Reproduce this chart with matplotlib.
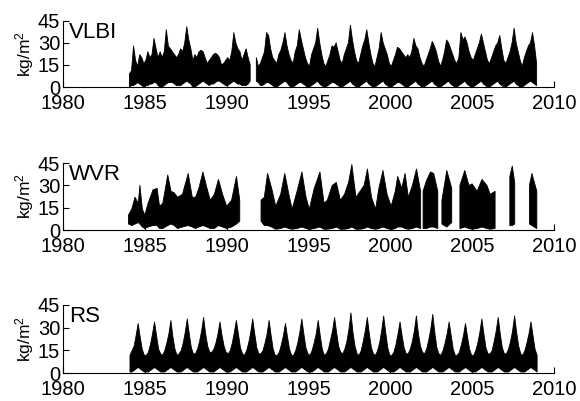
import numpy as np
import matplotlib
matplotlib.use("Agg")
import matplotlib.pyplot as plt

plt.rcParams['font.family'] = ['Liberation Sans', 'DejaVu Sans']
plt.rcParams['mathtext.default'] = 'regular'

nan = np.nan
years = list(range(1984, 2009))
# 8 samples per year, sample position inside the year
bins = [0.0625, 0.1875, 0.3125, 0.4375, 0.5625, 0.6875, 0.8125, 0.9375]

# VLBI: upper / lower edge of the point cloud
vlbi_hi = [
    [9, 11, 28, 18, 14, 22, 20, 16],
    [18, 24, 20, 22, 33, 26, 20, 24],
    [20, 24, 39, 28, 26, 24, 22, 20],
    [22, 26, 24, 30, 41, 32, 26, 18],
    [22, 20, 24, 25, 24, 20, 16, 18],
    [20, 22, 23, 22, 20, 15, 16, 18],
    [20, 18, 24, 37, 30, 26, 24, 18],
    [22, 26, 20, 15, nan, nan, 20, 14],
    [16, 20, 24, 37, 35, 26, 20, 18],
    [16, 22, 25, 30, 37, 28, 22, 18],
    [16, 24, 28, 39, 32, 26, 20, 16],
    [14, 22, 26, 30, 40, 30, 22, 16],
    [14, 18, 22, 28, 27, 30, 24, 18],
    [16, 22, 26, 30, 42, 32, 24, 18],
    [16, 22, 28, 32, 39, 30, 22, 16],
    [14, 20, 26, 37, 30, 26, 22, 16],
    [14, 18, 22, 27, 26, 24, 22, 20],
    [22, 20, 24, 33, 28, 26, 20, 16],
    [14, 18, 22, 26, 31, 28, 24, 18],
    [14, 18, 24, 32, 30, 26, 22, 18],
    [16, 20, 37, 32, 34, 30, 24, 20],
    [18, 22, 26, 30, 36, 30, 24, 18],
    [16, 20, 24, 28, 30, 35, 26, 18],
    [16, 20, 24, 30, 40, 30, 24, 18],
    [14, 20, 24, 28, 30, 37, 28, 16],
]
vlbi_lo = [
    [0, 1, 1, 2, 3, 2, 1, 0],
    [1, 1, 2, 2, 3, 3, 1, 0],
    [0, 1, 2, 3, 3, 3, 2, 1],
    [1, 1, 2, 3, 4, 3, 2, 0],
    [0, 1, 2, 3, 4, 3, 2, 1],
    [2, 2, 3, 4, 4, 3, 2, 1],
    [1, 2, 3, 4, 3, 2, 2, 1],
    [1, 1, 2, 4, nan, nan, 4, 3],
    [1, 1, 2, 3, 3, 2, 1, 0],
    [0, 1, 2, 3, 4, 3, 1, 0],
    [0, 1, 2, 3, 3, 2, 1, 0],
    [0, 1, 2, 3, 4, 2, 1, 0],
    [0, 1, 2, 3, 3, 2, 1, 0],
    [0, 1, 2, 3, 4, 2, 1, 0],
    [0, 1, 2, 3, 4, 2, 1, 0],
    [0, 1, 2, 3, 4, 2, 1, 0],
    [0, 1, 2, 3, 3, 2, 1, 0],
    [0, 1, 2, 3, 4, 2, 1, 0],
    [0, 1, 2, 3, 4, 2, 1, 0],
    [0, 1, 2, 3, 4, 2, 1, 0],
    [0, 1, 2, 3, 4, 2, 1, 0],
    [0, 1, 2, 3, 4, 2, 1, 0],
    [0, 1, 2, 3, 4, 2, 1, 0],
    [0, 1, 2, 3, 4, 2, 1, 0],
    [0, 1, 2, 3, 4, 3, 2, 1],
]

# WVR: irregular sampling because of the gaps
wvr_t = [1984.0, 1984.2, 1984.4, 1984.6, 1984.7, 1984.85, 1985.0, 1985.2, 1985.5,
         1985.75, 1985.9, 1986.1, 1986.4, 1986.6, 1986.8, 1987.0, 1987.3, 1987.65,
         1987.9, 1988.1, 1988.3, 1988.55, 1988.8, 1989.0, 1989.25, 1989.5, 1989.75,
         1990.0, 1990.3, 1990.6, 1990.8, 1990.85,
         1992.1, 1992.3, 1992.5, 1992.75, 1993.0, 1993.3, 1993.55, 1993.8, 1994.0,
         1994.3, 1994.6, 1994.85, 1995.05, 1995.35, 1995.7, 1995.95, 1996.15, 1996.45,
         1996.7, 1996.95, 1997.2, 1997.45, 1997.65, 1997.9, 1998.15, 1998.4, 1998.6,
         1998.85, 1999.1, 1999.3, 1999.55, 1999.8, 2000.05, 2000.3, 2000.45, 2000.7,
         2000.9, 2001.1, 2001.35, 2001.6, 2001.85, 2001.92,
         2002.0, 2002.2, 2002.45, 2002.65, 2002.9, 2002.95,
         2003.15, 2003.45, 2003.75, 2003.8,
         2004.25, 2004.55, 2004.8, 2005.0, 2005.3, 2005.6, 2005.9, 2006.1, 2006.4, 2006.45,
         2007.3, 2007.45, 2007.6, 2007.65,
         2008.5, 2008.65, 2008.95]
wvr_hi = [10, 14, 22, 18, 30, 14, 10, 18, 27,
          28, 16, 18, 37, 26, 25, 22, 24, 38,
          22, 22, 28, 39, 28, 20, 24, 34, 24,
          16, 20, 36, 20, nan,
          20, 22, 38, 28, 16, 24, 38, 24, 14,
          26, 39, 22, 14, 28, 39, 18, 20, 30,
          32, 20, 24, 32, 44, 22, 26, 30, 41,
          22, 14, 28, 40, 24, 16, 26, 36, 28,
          38, 22, 30, 41, 26, nan,
          26, 33, 39, 38, 26, nan,
          20, 40, 28, nan,
          30, 40, 30, 31, 26, 34, 30, 24, 26, nan,
          36, 43, 32, nan,
          30, 38, 26]
wvr_lo = [4, 3, 4, 5, 4, 2, 1, 2, 3,
          3, 1, 1, 3, 4, 3, 1, 2, 3,
          2, 1, 2, 3, 2, 1, 1, 3, 2,
          1, 2, 4, 6, nan,
          6, 3, 3, 2, 0.5, 1, 2, 1, 0.5,
          1, 2, 1, 0.3, 1, 2, 0.5, 0.5, 1,
          2, 0.5, 0.5, 1, 2, 0.5, 0.5, 1, 2,
          1, 0.5, 1, 2, 1, 0.3, 1, 2, 2,
          1, 0.5, 1, 2, 1, nan,
          1, 1, 2, 2, 1, nan,
          4, 2, 5, nan,
          1, 2, 1, 0.5, 1, 2, 1, 0.5, 1, nan,
          3, 3, 4, nan,
          4, 3, 1]

# RS: radiosonde, clear seasonal cycle
rs_hi = [
    [12, 15, 18, 25, 33, 24, 16, 12],
    [12, 14, 19, 26, 34, 25, 16, 13],
    [12, 15, 20, 26, 35, 24, 16, 12],
    [13, 15, 20, 27, 36, 26, 17, 13],
    [13, 16, 21, 28, 37, 26, 18, 14],
    [14, 16, 20, 26, 34, 25, 18, 14],
    [13, 15, 20, 27, 35, 26, 17, 13],
    [12, 15, 20, 27, 36, 26, 17, 13],
    [13, 15, 20, 26, 35, 25, 16, 12],
    [12, 14, 19, 25, 33, 24, 16, 12],
    [12, 15, 20, 27, 36, 26, 17, 13],
    [12, 15, 20, 26, 35, 25, 16, 12],
    [13, 16, 22, 28, 37, 27, 18, 14],
    [13, 16, 21, 29, 40, 27, 18, 13],
    [12, 15, 21, 28, 37, 26, 17, 13],
    [12, 15, 20, 28, 38, 27, 17, 12],
    [12, 14, 19, 26, 34, 25, 17, 13],
    [13, 16, 21, 28, 38, 26, 18, 14],
    [13, 16, 22, 29, 39, 27, 17, 13],
    [12, 15, 20, 26, 34, 25, 16, 12],
    [12, 14, 19, 25, 33, 24, 16, 12],
    [12, 15, 20, 27, 36, 26, 17, 13],
    [13, 15, 21, 28, 37, 26, 17, 13],
    [13, 16, 21, 28, 38, 27, 18, 13],
    [12, 15, 20, 26, 34, 25, 16, 12],
]
rs_lo = [[1, 1, 2, 3, 4, 3, 2, 1] for _ in years]


def yearly(rows):
    t, v = [], []
    for y, row in zip(years, rows):
        for b, val in zip(bins, row):
            t.append(y + b)
            v.append(val)
    return np.array(t), np.array(v, dtype=float)


vt, vh = yearly(vlbi_hi)
_, vl = yearly(vlbi_lo)
rt, rh = yearly(rs_hi)
_, rl = yearly(rs_lo)

panels = [
    ("VLBI", vt, vl, vh),
    ("WVR", np.array(wvr_t), np.array(wvr_lo, dtype=float), np.array(wvr_hi, dtype=float)),
    ("RS", rt, rl, rh),
]
boxes = [
    [0.1086, 0.783, 0.8466, 0.165],
    [0.1086, 0.4264, 0.8466, 0.167],
    [0.1086, 0.0698, 0.8466, 0.170],
]

fig = plt.figure(figsize=(5.8, 4.01), dpi=100)
for (name, t, lo, hi), box in zip(panels, boxes):
    ax = fig.add_axes(box)
    ax.fill_between(t, lo, hi, color='k', lw=0.6, edgecolor='k')
    ax.set_xlim(1980, 2010)
    ax.set_ylim(0, 45)
    ax.set_xticks(range(1980, 2011, 5))
    ax.set_yticks([0, 15, 30, 45])
    ax.spines['top'].set_visible(False)
    ax.spines['right'].set_visible(False)
    ax.tick_params(direction='in', length=4, labelsize=14.5)
    ax.tick_params(axis='y', pad=2)
    ax.tick_params(axis='x', pad=5)
    ax.set_ylabel('kg/m$^2$', fontsize=12.5, labelpad=1)
    ax.text(0.012, 0.99, name, transform=ax.transAxes, fontsize=16, va='top', ha='left')

fig.savefig("out.png", dpi=100)
